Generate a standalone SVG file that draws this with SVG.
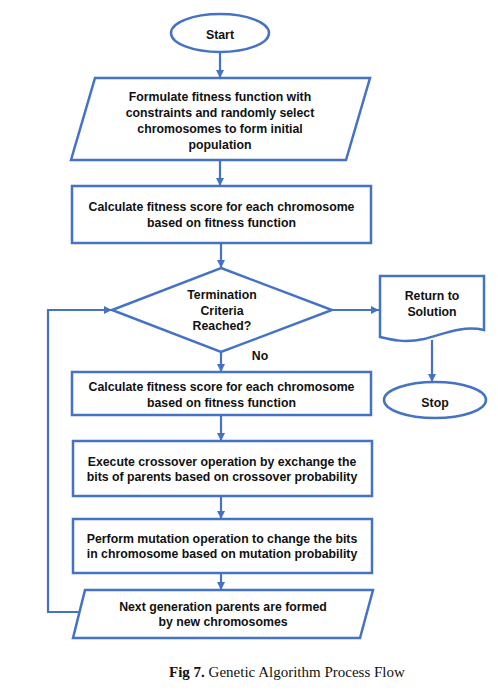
<svg xmlns="http://www.w3.org/2000/svg" width="498" height="696" viewBox="0 0 498 696">
<defs>
<marker id="ah" viewBox="0 0 10 10" refX="10" refY="5" markerWidth="8" markerHeight="8" markerUnits="userSpaceOnUse" orient="auto">
<path d="M0,0 L10,5 L0,10 Z" fill="#4472C4"/>
</marker>
<style>
.s{fill:#fff;stroke:#4472C4;stroke-width:2.5}
.t{font-family:"Liberation Sans",Arial,sans-serif;font-weight:bold;font-size:12.3px;fill:#111;text-anchor:middle}
.c{fill:none;stroke:#4472C4;stroke-width:2.2;marker-end:url(#ah)}
.cap{font-family:"Liberation Serif","Times New Roman",serif;font-size:15px;fill:#111}
</style>
</defs>
<rect width="498" height="696" fill="#fff"/>
<g id="connectors">
<line class="c" x1="220" y1="52" x2="220" y2="78"/>
<line class="c" x1="220" y1="160" x2="220" y2="186"/>
<line class="c" x1="221" y1="243" x2="221" y2="268"/>
<line class="c" x1="221" y1="352" x2="221" y2="372"/>
<line class="c" x1="221" y1="415" x2="221" y2="441"/>
<line class="c" x1="221" y1="496" x2="221" y2="519"/>
<line class="c" x1="221" y1="573" x2="221" y2="590"/>
<line class="c" x1="332" y1="310" x2="379" y2="310"/>
<line class="c" x1="432" y1="340" x2="432" y2="382"/>
<polyline class="c" points="79,612 48,612 48,310 112,310"/>
</g>
<g id="start">
<ellipse class="s" cx="220" cy="33" rx="49" ry="19"/>
<text class="t" x="220" y="38.5">Start</text>
</g>
<g id="init">
<polygon class="s" points="95,78 370,78 346,160 71,160"/>
<text class="t" x="220" y="101">Formulate fitness function with</text>
<text class="t" x="220" y="117">constraints and randomly select</text>
<text class="t" x="220" y="133">chromosomes to form initial</text>
<text class="t" x="220" y="149">population</text>
</g>
<g id="fitness1">
<rect class="s" x="72" y="186" width="299" height="57"/>
<text class="t" x="221.5" y="211">Calculate fitness score for each chromosome</text>
<text class="t" x="221.5" y="227">based on fitness function</text>
</g>
<g id="decision">
<polygon class="s" points="221,268 332,310 221,352 112,310"/>
<text class="t" x="222" y="299">Termination</text>
<text class="t" x="222" y="315">Criteria</text>
<text class="t" x="222" y="330">Reached?</text>
</g>
<text class="t" x="260" y="360">No</text>
<g id="solution">
<path class="s" d="M380,276 L484,276 L484,330 C462,325 444,334 424,339 C405,343 392,340 380,337 Z"/>
<text class="t" x="432" y="300">Return to</text>
<text class="t" x="432" y="316">Solution</text>
</g>
<g id="stop">
<ellipse class="s" cx="435" cy="400" rx="51" ry="18"/>
<text class="t" x="435" y="407">Stop</text>
</g>
<g id="fitness2">
<rect class="s" x="72" y="372" width="299" height="43"/>
<text class="t" x="221.5" y="391">Calculate fitness score for each chromosome</text>
<text class="t" x="221.5" y="407">based on fitness function</text>
</g>
<g id="crossover">
<rect class="s" x="73" y="441" width="299" height="55"/>
<text class="t" x="222" y="466">Execute crossover operation by exchange the</text>
<text class="t" x="222" y="481">bits of parents based on crossover probability</text>
</g>
<g id="mutation">
<rect class="s" x="73" y="519" width="299" height="54"/>
<text class="t" x="222" y="543">Perform mutation operation to change the bits</text>
<text class="t" x="222" y="558">in chromosome based on mutation probability</text>
</g>
<g id="nextgen">
<polygon class="s" points="85,590 373,590 360,638 73,638"/>
<text class="t" x="223" y="611">Next generation parents are formed</text>
<text class="t" x="223" y="626">by new chromosomes</text>
</g>
<text class="cap" x="169" y="677"><tspan font-weight="bold">Fig 7.</tspan> Genetic Algorithm Process Flow</text>
</svg>
